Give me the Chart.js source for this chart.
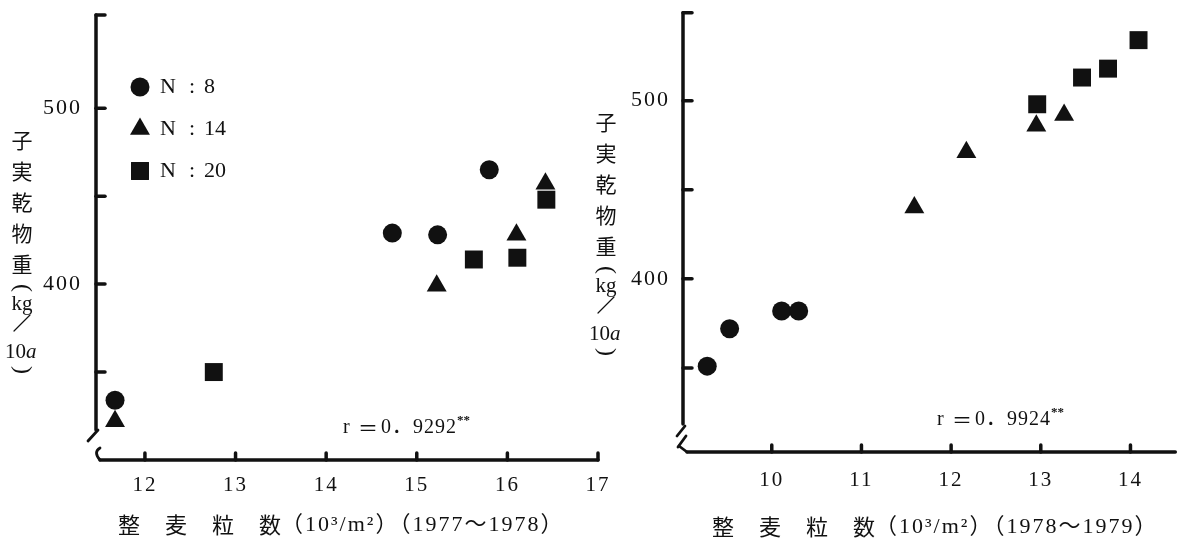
<!DOCTYPE html>
<html lang="ja">
<head>
<meta charset="UTF-8">
<title>整麦粒数と子実乾物重</title>
<script src="https://cdn.jsdelivr.net/npm/chart.js"></script>
<style>
  html, body { margin: 0; padding: 0; background: #fff; }
  body { width: 1188px; height: 546px; position: relative; overflow: hidden; }
  canvas { position: absolute; top: 0; }
  #left { left: 0; }
  #right { left: 580px; }
</style>
</head>
<body>
<canvas id="left" width="612" height="546"></canvas>
<canvas id="right" width="608" height="546"></canvas>
<script>
// 1977~1978
const leftN8X = [11.67, 14.73, 15.23, 15.80];
const leftN8Y = [334, 429, 428, 465];
const leftN14X = [11.67, 15.22, 16.10, 16.42];
const leftN14Y = [322, 399, 428, 457];
const leftN20X = [12.76, 15.63, 16.11, 16.43];
const leftN20Y = [350, 414, 415, 448];

// 1978~1979
const rightN8X = [9.28, 9.53, 10.11, 10.30];
const rightN8Y = [351, 372, 382, 382];
const rightN14X = [11.59, 12.17, 12.95, 13.26];
const rightN14Y = [440, 471, 486, 492];
const rightN20X = [12.96, 13.46, 13.75, 14.09];
const rightN20Y = [498, 513, 518, 534];

const seriesLabels = ["N : 8", "N : 14", "N : 20"];
const pointStyles = ["circle", "triangle", "rect"];
const pointSizes = [9.5, 11.5, 12.7];
const yTickLabels = [400, 500];

const INK = "#111";
const SERIF = '"Liberation Serif", "DejaVu Serif", "Noto Sans CJK JP", serif';
const CJK = '"Noto Sans CJK JP", "Noto Sans CJK SC", sans-serif';

function pts(xs, ys) {
  return xs.map((x, i) => ({ x: x, y: ys[i] }));
}

function makeSets(groups) {
  return groups.map((g, i) => ({
    label: seriesLabels[i],
    data: pts(g[0], g[1]),
    pointStyle: pointStyles[i],
    pointRadius: pointSizes[i],
    pointHoverRadius: pointSizes[i],
    backgroundColor: INK,
    borderColor: INK,
    borderWidth: 0,
    clip: false,
  }));
}

function line(ctx, x1, y1, x2, y2) {
  ctx.beginPath();
  ctx.moveTo(x1, y1);
  ctx.lineTo(x2, y2);
  ctx.stroke();
}

// wider spacing for the tick numbers, like the printed figure
const spacing = {
  id: "spacing",
  beforeDraw(chart) { chart.ctx.letterSpacing = "2px"; },
  beforeDatasetsDraw(chart) { chart.ctx.letterSpacing = "0px"; },
};

const decor = {
  id: "decor",
  afterDraw(chart, args, o) {
    const ctx = chart.ctx;
    const xs = chart.scales.x, ys = chart.scales.y;
    const a = chart.chartArea;
    ctx.save();
    ctx.letterSpacing = "0px";
    ctx.strokeStyle = INK;
    ctx.fillStyle = INK;
    ctx.lineCap = "round";
    ctx.lineWidth = 3.5;

    // y axis with top cap and inner ticks
    line(ctx, a.left, a.top, a.left, a.bottom - o.yGap);
    line(ctx, a.left, a.top, a.left + 9, a.top);
    ys.ticks.forEach(t => {
      if (t.value % 50 !== 0 || t.value <= ys.min || t.value >= 550) return;
      const y = ys.getPixelForValue(t.value);
      line(ctx, a.left, y, a.left + 9, y);
    });

    // x axis with inner ticks
    line(ctx, a.left + 4, a.bottom, a.right, a.bottom);
    xs.ticks.forEach(t => {
      if (!Number.isInteger(t.value)) return;
      const x = xs.getPixelForValue(t.value);
      line(ctx, x, a.bottom, x, a.bottom - 7);
    });

    // axis break marks
    ctx.lineWidth = 2.8;
    const yb = a.bottom - o.yGap;
    if (o.doubleBreak) {
      line(ctx, a.left + 2, yb + 2, a.left - 6, yb + 12);
      line(ctx, a.left + 3, yb + 12, a.left - 5, yb + 23);
      line(ctx, a.left - 4, yb + 22, a.left + 4, a.bottom);
    } else {
      line(ctx, a.left + 2, yb, a.left - 8, yb + 11);
      ctx.beginPath();
      ctx.moveTo(a.left + 4, a.bottom - 12);
      ctx.quadraticCurveTo(a.left - 3, a.bottom - 8, a.left + 4, a.bottom);
      ctx.stroke();
    }

    // y title, stacked vertically
    const t = o.yTitle;
    ctx.textAlign = "center";
    ctx.textBaseline = "middle";
    ctx.font = "400 21px " + CJK;
    "子実乾物重".split("").forEach((c, i) => ctx.fillText(c, t.x, t.top + i * 31));
    const base = t.top + 4 * 31;
    ctx.font = "24px " + SERIF;
    ctx.save();
    ctx.translate(t.x, base + 24);
    ctx.rotate(Math.PI / 2);
    ctx.fillText("(", 0, 0);
    ctx.restore();
    ctx.font = "21px " + SERIF;
    ctx.fillText("kg", t.x, base + 40);
    ctx.lineWidth = 1.2;
    line(ctx, t.x - 8, base + 67, t.x + 8, base + 51);
    ctx.textAlign = "right";
    ctx.fillText("10", t.x + 4, base + 88);
    ctx.textAlign = "left";
    ctx.font = "italic 21px " + SERIF;
    ctx.fillText("a", t.x + 4, base + 88);
    ctx.textAlign = "center";
    ctx.font = "24px " + SERIF;
    ctx.save();
    ctx.translate(t.x, base + 106);
    ctx.rotate(Math.PI / 2);
    ctx.fillText(")", 0, 0);
    ctx.restore();

    // x title
    ctx.textAlign = "left";
    ctx.font = "400 22px " + CJK;
    let x = o.xTitle.x;
    "整麦粒数".split("").forEach((c, i) => {
      ctx.fillText(c, x, o.xTitle.y);
      x += i < 3 ? 47 : 22;
    });
    ctx.font = "22px " + SERIF;
    ctx.letterSpacing = "2px";
    ctx.fillText(o.xTitle.rest, x, o.xTitle.y);
    ctx.letterSpacing = "0px";

    // correlation text
    ctx.font = "20px " + SERIF;
    ctx.fillText("r", o.r.x, o.r.y);
    ctx.font = "400 20px " + CJK;
    ctx.fillText("＝", o.r.x + 15, o.r.y);
    ctx.font = "20px " + SERIF;
    ctx.letterSpacing = "1px";
    ctx.fillText(o.r.text, o.r.x + 38, o.r.y);
    const w = ctx.measureText(o.r.text).width;
    ctx.letterSpacing = "0px";
    ctx.font = "bold 13px " + SERIF;
    ctx.fillText("**", o.r.x + 38 + w, o.r.y - 7);

    // legend
    if (o.legend) {
      chart.data.datasets.forEach((d, i) => {
        const ly = o.legend.y + i * 42;
        ctx.fillStyle = INK;
        Chart.helpers.drawPoint(ctx, {
          pointStyle: d.pointStyle, radius: d.pointRadius, rotation: 0, borderWidth: 0,
        }, o.legend.x, ly);
        ctx.fillStyle = INK;
        ctx.font = "22px " + SERIF;
        ctx.textAlign = "left";
        ctx.fillText("N", o.legend.x + 20, ly);
        ctx.textAlign = "center";
        ctx.fillText(":", o.legend.x + 52, ly);
        ctx.textAlign = "left";
        ctx.fillText(d.label.split(":")[1].trim(), o.legend.x + 64, ly);
      });
    }
    ctx.restore();
  },
};

function makeChart(id, groups, sc) {
  return new Chart(document.getElementById(id), {
    type: "scatter",
    data: { datasets: makeSets(groups) },
    options: {
      responsive: false,
      animation: false,
      layout: { padding: { top: sc.top, right: sc.right, left: 0, bottom: 0 } },
      plugins: {
        legend: { display: false },
        tooltip: { enabled: false },
        decor: sc.decor,
      },
      scales: {
        x: {
          type: "linear",
          min: sc.xMin,
          max: sc.xMax,
          grid: { display: false },
          border: { display: false },
          ticks: {
            stepSize: 1,
            includeBounds: false,
            autoSkip: false,
            maxRotation: 0,
            padding: sc.xPad,
            color: INK,
            font: { family: SERIF, size: 21 },
            callback: v => (Number.isInteger(v) ? v : ""),
          },
          afterFit: s => {
            s.height = sc.xHeight;
            s.paddingLeft = 0;
            s.paddingRight = 0;
          },
        },
        y: {
          type: "linear",
          min: sc.yMin,
          max: sc.yMax,
          grid: { display: false },
          border: { display: false },
          ticks: {
            stepSize: 50,
            includeBounds: false,
            autoSkip: false,
            padding: sc.yPad,
            color: INK,
            font: { family: SERIF, size: 22 },
            callback: v => (yTickLabels.includes(v) ? v : ""),
          },
          afterFit: s => {
            s.width = sc.yWidth;
            s.paddingTop = 0;
            s.paddingBottom = 0;
          },
        },
      },
    },
    plugins: [spacing, decor],
  });
}

makeChart("left", [[leftN8X, leftN8Y], [leftN14X, leftN14Y], [leftN20X, leftN20Y]], {
  top: 15, right: 14, xMin: 11.46, xMax: 17, yMin: 300, yMax: 553,
  xHeight: 86, yWidth: 96, xPad: 5, yPad: 6,
  decor: {
    yGap: 30, doubleBreak: false,
    yTitle: { x: 22, top: 140 },
    xTitle: { x: 118, y: 525, rest: "（10³/m²）（1977～1978）" },
    r: { x: 343, y: 428, text: "0．9292" },
    legend: { x: 140, y: 87 },
  },
});

makeChart("right", [[rightN8X, rightN8Y], [rightN14X, rightN14Y], [rightN20X, rightN20Y]], {
  top: 8, right: 11, xMin: 9.01, xMax: 14.5, yMin: 302.8, yMax: 549.4,
  xHeight: 94, yWidth: 103, xPad: 8, yPad: 5,
  decor: {
    yGap: 28, doubleBreak: true,
    yTitle: { x: 26, top: 122 },
    xTitle: { x: 132, y: 527, rest: "（10³/m²）（1978～1979）" },
    r: { x: 357, y: 420, text: "0．9924" },
    legend: null,
  },
});
</script>
</body>
</html>
